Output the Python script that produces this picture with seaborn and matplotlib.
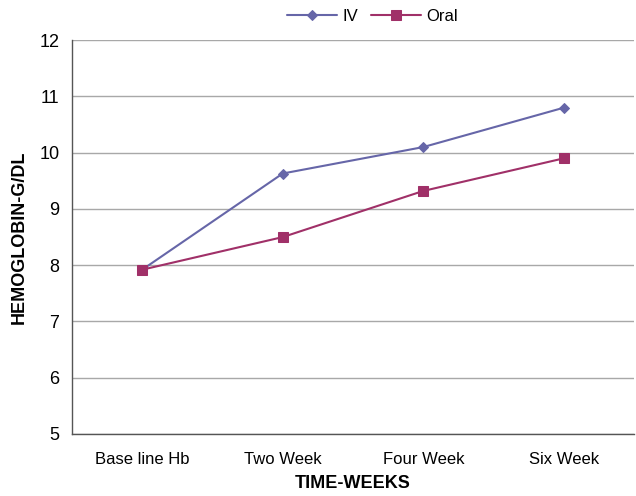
import matplotlib
matplotlib.use("Agg")
import matplotlib.pyplot as plt
import seaborn as sns
import pandas as pd
import numpy as np

categories = ["Base line Hb", "Two Week", "Four Week", "Six Week"]
iv_values = [7.92, 9.63, 10.10, 10.80]
oral_values = [7.92, 8.50, 9.32, 9.90]

sns.set_style("white")
plt.rcParams['font.family'] = ['Liberation Sans', 'DejaVu Sans']
plt.rcParams['text.color'] = 'black'
plt.rcParams['axes.labelcolor'] = 'black'
plt.rcParams['xtick.color'] = 'black'
plt.rcParams['ytick.color'] = 'black'

fig = plt.figure(figsize=(6.36, 4.96), dpi=100)
ax = fig.add_axes([0.113, 0.125, 0.884, 0.794])

pos = np.arange(len(categories))
df_iv = pd.DataFrame({"x": pos, "y": iv_values})
df_oral = pd.DataFrame({"x": pos, "y": oral_values})

iv_color = "#6666A8"
oral_color = "#A03068"

sns.lineplot(data=df_iv, x="x", y="y", ax=ax, color=iv_color, marker="D",
             markersize=5.5, markeredgecolor=iv_color, linewidth=1.5, label="IV")
sns.lineplot(data=df_oral, x="x", y="y", ax=ax, color=oral_color, marker="s",
             markersize=6.5, markeredgecolor=oral_color, linewidth=1.5, label="Oral")

ax.set_ylim(5, 12)
ax.set_xlim(-0.5, len(categories) - 0.5)
ax.set_yticks(range(5, 13))
ax.set_xticks(pos)
ax.set_xticklabels(categories, fontsize=12)
ax.set_xticks(np.arange(-0.5, len(categories), 1.0), minor=True)
ax.tick_params(axis="x", which="major", length=0, pad=13)
ax.tick_params(axis="x", which="minor", length=4, direction="out", color="#555555")
ax.tick_params(axis="y", length=5, direction="out", color="#555555", labelsize=13, pad=4)
ax.yaxis.grid(True, color="#A8A8A8", linewidth=1)
ax.set_axisbelow(True)

for s in ["top", "right"]:
    ax.spines[s].set_visible(False)
for s in ["left", "bottom"]:
    ax.spines[s].set_color("#555555")
    ax.spines[s].set_linewidth(1)

ax.set_xlabel("TIME-WEEKS", fontsize=13, fontweight="bold", labelpad=6)
ax.set_ylabel("HEMOGLOBIN-G/DL", fontsize=13, fontweight="bold", labelpad=8)

ax.legend(loc="lower center", bbox_to_anchor=(0.535, 1.025), ncol=2, frameon=False,
          fontsize=12, handlelength=3.0, columnspacing=0.8, handletextpad=0.3,
          borderaxespad=0)

fig.savefig("out.png", dpi=100)
